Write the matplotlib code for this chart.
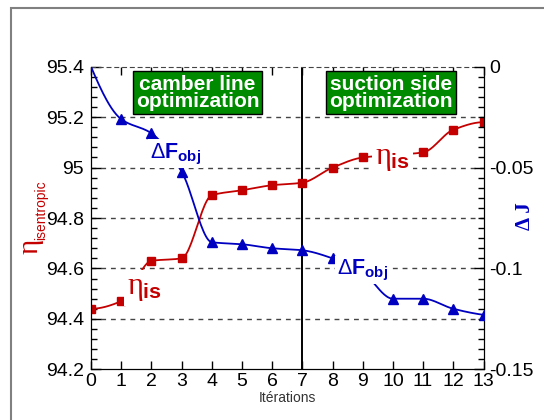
import numpy as np
import matplotlib
matplotlib.use("Agg")
import matplotlib.pyplot as plt
from matplotlib.ticker import MultipleLocator, FuncFormatter
from matplotlib.patches import Rectangle

plt.rcParams['font.family'] = ['Liberation Sans', 'DejaVu Sans']
plt.rcParams['mathtext.fontset'] = 'custom'
plt.rcParams['mathtext.rm'] = 'Liberation Sans'
plt.rcParams['mathtext.bf'] = 'Liberation Sans:bold'
plt.rcParams['mathtext.it'] = 'Liberation Serif'
plt.rcParams['axes.unicode_minus'] = False

# data
iterations = list(range(14))
eta_is = [94.44, 94.47, 94.63, 94.64, 94.89, 94.91, 94.93, 94.94,
          95.00, 95.04, 95.05, 95.06, 95.15, 95.18]
delta_f = [0.0, -0.026, -0.033, -0.052, -0.087, -0.088, -0.090, -0.091,
           -0.095, -0.102, -0.115, -0.115, -0.120, -0.123]

RED = '#c40000'
BLUE = '#0000c0'


def smooth(x, y, n=25):
    """monotone cubic curve through the points (like the spline of the original)"""
    x = np.asarray(x, float)
    y = np.asarray(y, float)
    h = np.diff(x)
    d = np.diff(y) / h
    m = np.zeros_like(y)
    for k in range(1, len(x) - 1):
        if d[k - 1] * d[k] > 0:
            w1 = 2 * h[k] + h[k - 1]
            w2 = h[k] + 2 * h[k - 1]
            m[k] = (w1 + w2) / (w1 / d[k - 1] + w2 / d[k])

    def end(h0, h1, d0, d1):
        mm = ((2 * h0 + h1) * d0 - h0 * d1) / (h0 + h1)
        if np.sign(mm) != np.sign(d0):
            mm = 0.0
        elif np.sign(d0) != np.sign(d1) and abs(mm) > abs(3 * d0):
            mm = 3 * d0
        return mm

    m[0] = end(h[0], h[1], d[0], d[1])
    m[-1] = end(h[-1], h[-2], d[-1], d[-2])
    xs, ys = [], []
    for k in range(len(h)):
        t = np.linspace(0, 1, n, endpoint=(k == len(h) - 1))
        h00 = 2 * t**3 - 3 * t**2 + 1
        h10 = t**3 - 2 * t**2 + t
        h01 = -2 * t**3 + 3 * t**2
        h11 = t**3 - t**2
        xs.append(x[k] + t * h[k])
        ys.append(h00 * y[k] + h10 * h[k] * m[k] + h01 * y[k + 1] + h11 * h[k] * m[k + 1])
    return np.concatenate(xs), np.concatenate(ys)


fig = plt.figure(figsize=(5.44, 4.2), dpi=100)
fig.add_artist(Rectangle((11 / 544, -0.1), 1.2, 1 - 8 / 420 + 0.1, transform=fig.transFigure,
                         fill=False, ec='#808080', lw=1.5))

ax = fig.add_axes([0.1673, 0.1207, 0.7215, 0.7205])
ax2 = ax.twinx()

ax.set_xlim(0, 13)
ax.set_ylim(94.2, 95.4)
ax2.set_ylim(-0.15, 0)

# grid and frame
for y in [94.4, 94.6, 94.8, 95.0, 95.2]:
    ax.axhline(y, color='#444444', lw=1, ls=(0, (3.5, 3.5)), zorder=1)
ax.spines['top'].set_linestyle((0, (3.5, 3.5)))
ax.spines['top'].set_color('#444444')
ax2.spines['top'].set_visible(False)
ax.axvline(7, color='black', lw=1.4, zorder=2)

# curves
xs, ys = smooth(iterations, eta_is)
ax.plot(xs, ys, color=RED, lw=1.3, zorder=3)
ax.plot(iterations, eta_is, ls='none', marker='s', ms=6, color=RED, mec=RED, zorder=4)

xs, ys = smooth(iterations, delta_f)
ax2.plot(xs, ys, color=BLUE, lw=1.3, zorder=3)
ax2.plot(iterations[1:], delta_f[1:], ls='none', marker='^', ms=7.5, color=BLUE, mec=BLUE, zorder=4)

# ticks
fmt = FuncFormatter(lambda v, p: '%g' % round(v, 4))
ax.xaxis.set_major_locator(MultipleLocator(1))
ax.yaxis.set_major_locator(MultipleLocator(0.2))
ax.yaxis.set_minor_locator(MultipleLocator(0.04))
ax.yaxis.set_major_formatter(fmt)
ax2.yaxis.set_major_locator(MultipleLocator(0.05))
ax2.yaxis.set_minor_locator(MultipleLocator(0.005))
ax2.yaxis.set_major_formatter(fmt)

ax.tick_params(axis='x', direction='in', top=True, length=6, width=1, labelsize=14, pad=3)
ax.tick_params(axis='y', which='major', direction='in', length=7, width=1, labelsize=14, pad=5)
ax.tick_params(axis='y', which='minor', direction='in', length=4, width=1)
ax2.tick_params(axis='y', which='major', direction='in', length=7, width=1, labelsize=14, pad=4)
ax2.tick_params(axis='y', which='minor', direction='in', length=4, width=1)

# axis titles
fig.text(30.5 / 544, 1 - 246 / 420, '\u03b7', rotation=90, ha='center', va='center',
         color=RED, fontsize=21, family='Liberation Serif')
fig.text(41 / 544, 1 - 210 / 420, 'isentropic', rotation=90, ha='center', va='center',
         color=RED, fontsize=10)
fig.text(525 / 544, 1 - 216 / 420, '\u0394 J', rotation=90, ha='center', va='center',
         color=BLUE, fontsize=15, fontweight='bold', family='Liberation Serif')
fig.text(287 / 544, 1 - 398 / 420, 'Itérations', ha='center', va='center',
         color='#333333', fontsize=10)

# curve labels with white background
white = dict(boxstyle='square,pad=0.1', fc='white', ec='none')
ax2.text(1.76, 94.524, r'$\eta_{\mathbf{is}}$', transform=ax.transData, ha='center', va='center',
         color=RED, fontsize=22, bbox=white, zorder=6)
ax2.text(9.98, 95.038, r'$\eta_{\mathbf{is}}$', transform=ax.transData, ha='center', va='center',
         color=RED, fontsize=22, bbox=white, zorder=6)
ax2.text(2.79, -0.0432, r'$\Delta\mathbf{F}_{\mathbf{obj}}$', ha='center', va='center',
         color=BLUE, fontsize=15.5, bbox=white, zorder=6)
ax2.text(8.99, -0.1008, r'$\Delta\mathbf{F}_{\mathbf{obj}}$', ha='center', va='center',
         color=BLUE, fontsize=15.5, bbox=white, zorder=6)

# phase boxes
green = dict(boxstyle='square,pad=0.15', fc='#008a00', ec='black', lw=1)
ax2.text(3.53, 95.297, 'camber line\noptimization', transform=ax.transData, ha='center',
         va='center', color='white', fontsize=15, fontweight='bold', linespacing=0.88,
         bbox=green, zorder=6)
ax2.text(9.94, 95.297, 'suction side\noptimization', transform=ax.transData, ha='center',
         va='center', color='white', fontsize=15, fontweight='bold', linespacing=0.88,
         bbox=green, zorder=6)

fig.savefig('out.png', dpi=100)
